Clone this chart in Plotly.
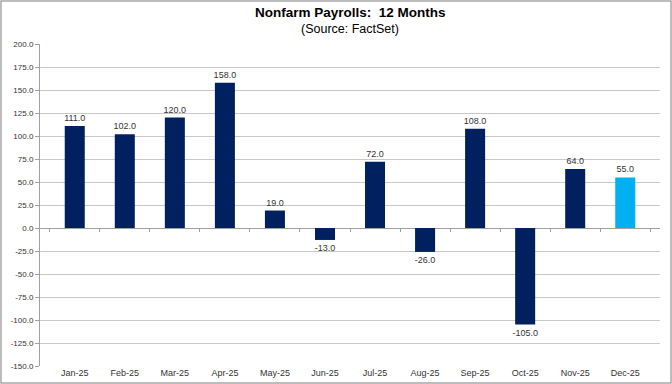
import plotly.graph_objects as go

months = ["Jan-25", "Feb-25", "Mar-25", "Apr-25", "May-25", "Jun-25",
          "Jul-25", "Aug-25", "Sep-25", "Oct-25", "Nov-25", "Dec-25"]
payrolls = [111.0, 102.0, 120.0, 158.0, 19.0, -13.0, 72.0, -26.0, 108.0, -105.0, 64.0, 55.0]
colors = ["#002060"] * 11 + ["#00B0F0"]
yticks = [200, 175, 150, 125, 100, 75, 50, 25, 0, -25, -50, -75, -100, -125, -150]
ymin, ymax = -150, 200

W, H = 672, 384
ml, mr, mt, mb = 40, 12, 44, 18

fig = go.Figure(go.Bar(
    x=months, y=payrolls, marker=dict(color=colors, line=dict(width=0)),
    text=[f"{v:.1f}" for v in payrolls], textposition="outside",
    textfont=dict(family="Arial", size=9, color="#333333"),
    constraintext="none", cliponaxis=False,
))
# invisible trace so the secondary x-axis (tick marks on the zero line) is drawn
fig.add_trace(go.Scatter(x=months, y=[0] * len(months), xaxis="x2", mode="markers",
                         marker=dict(opacity=0), hoverinfo="skip", showlegend=False))

pw, ph = W - ml - mr, H - mt - mb
fig.add_shape(type="rect", xref="paper", yref="paper",
              x0=-(ml - 1) / pw, x1=1 + (mr - 1) / pw,
              y0=-(mb - 1) / ph, y1=1 + (mt - 1) / ph,
              line=dict(color="#A6A6A6", width=1.5), layer="below")

fig.add_annotation(text="<b>Nonfarm Payrolls:  12 Months</b>", xref="paper", yref="paper",
                   x=0.5, y=1 + (mt - 13) / ph, yanchor="middle", showarrow=False,
                   font=dict(family="Arial", size=13.5, color="#000000"))
fig.add_annotation(text="(Source: FactSet)", xref="paper", yref="paper",
                   x=0.5, y=1 + (mt - 29) / ph, yanchor="middle", showarrow=False,
                   font=dict(family="Arial", size=12.5, color="#000000"))

fig.update_layout(
    width=W, height=H, margin=dict(l=ml, r=mr, t=mt, b=mb),
    paper_bgcolor="white", plot_bgcolor="white", bargap=0.6, showlegend=False,
    font=dict(family="Arial", size=8, color="#333333"),
    xaxis=dict(showgrid=False, showline=False, ticks="", tickfont=dict(size=9),
               automargin=False),
    xaxis2=dict(overlaying="x", anchor="free", position=(0 - ymin) / (ymax - ymin),
                showticklabels=False, ticks="outside", tickson="boundaries",
                ticklen=3, tickcolor="#A0A0A0", showgrid=False, showline=False,
                categoryorder="array", categoryarray=months, matches="x",
                automargin=False),
    yaxis=dict(range=[ymin, ymax], tickvals=yticks, ticktext=[f"{v:.1f}" for v in yticks],
               showgrid=True, gridcolor="#C8C8C8", gridwidth=1,
               zeroline=True, zerolinecolor="#A0A0A0", zerolinewidth=1,
               showline=True, linecolor="#A0A0A0", linewidth=1,
               ticks="outside", ticklen=4, tickcolor="#A0A0A0",
               tickfont=dict(size=8), automargin=False),
)

fig.write_html("out.html", config={"displayModeBar": False},
               post_script="document.body.style.margin='0';document.body.style.overflow='hidden';")
